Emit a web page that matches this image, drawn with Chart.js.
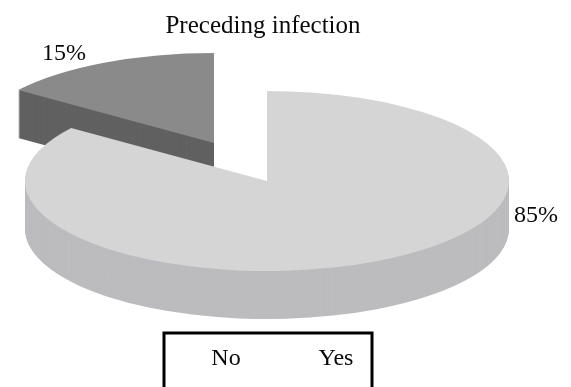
<!DOCTYPE html>
<html>
<head>
<meta charset="utf-8">
<title>Preceding infection</title>
<script src="https://cdn.jsdelivr.net/npm/chart.js@4/dist/chart.umd.min.js"></script>
<style>
  html, body { margin: 0; padding: 0; background: #fff; }
  #wrap { width: 571px; height: 387px; }
</style>
</head>
<body>
<div id="wrap"><canvas id="infection-pie" width="571" height="387"></canvas></div>
<script>
var categories = ["No", "Yes"];
var percents = [85, 15];
var topColors = ["#d5d5d6", "#8a8a8a"];
var sideColors = ["#bcbcbf", "#616161"];

// slices are painted back to front, the pulled out one first
var paintOrder = [1, 0];
var pieCenter = { x: 267, y: 181 };
var pulledOut = [{ x: 0, y: 0 }, { x: -53, y: -38 }];
var pieRadius = 242;
var tilt = 90 / 242;
var depth = 48;

var labelSpots = [{ x: 536, y: 216 }, { x: 64, y: 54 }];
var legendSpots = [226, 336];

var fontFamily = "'Liberation Serif', serif";

var pie3d = {
  id: "pie3d",
  beforeDatasetDraw: function (chart, args) {
    var ctx = chart.ctx;
    var arcs = args.meta.data;
    paintOrder.forEach(function (i) {
      var arc = arcs[i];
      var side = Object.create(arc);
      side.options = Object.assign({}, arc.options, { backgroundColor: sideColors[i] });
      var px = pieCenter.x + pulledOut[i].x;
      var py = pieCenter.y + pulledOut[i].y;
      for (var d = depth; d >= 0; d--) {
        ctx.save();
        ctx.translate(px, py + d);
        ctx.scale(1, tilt);
        ctx.translate(-arc.x, -arc.y);
        (d === 0 ? arc : side).draw(ctx);
        ctx.restore();
      }
    });
    return false;
  },
  afterDraw: function (chart) {
    var ctx = chart.ctx;
    ctx.save();
    ctx.fillStyle = "#0a0a0a";
    ctx.font = "24px " + fontFamily;
    ctx.textAlign = "center";
    ctx.textBaseline = "middle";
    percents.forEach(function (v, i) {
      ctx.fillText(v + "%", labelSpots[i].x, labelSpots[i].y);
    });

    // legend frame runs off the bottom edge
    ctx.strokeStyle = "#000";
    ctx.lineWidth = 3;
    ctx.strokeRect(164, 333, 208, 70);
    categories.forEach(function (c, i) {
      ctx.fillText(c, legendSpots[i], 359);
    });
    ctx.restore();
  }
};

var chartGraph = new Chart(document.getElementById("infection-pie"), {
  type: "pie",
  data: {
    labels: categories,
    datasets: [
      {
        data: percents,
        backgroundColor: topColors,
        borderWidth: 0,
        radius: pieRadius,
      }
    ],
  },
  options: {
    responsive: false,
    animation: false,
    events: [],
    layout: { padding: { right: 45 } },
    plugins: {
      legend: { display: false },
      tooltip: { enabled: false },
      title: {
        display: true,
        text: "Preceding infection",
        color: "#0a0a0a",
        font: { family: fontFamily, size: 25, weight: "normal" },
        padding: { top: 11, bottom: 4 },
      },
    },
  },
  plugins: [pie3d],
});
</script>
</body>
</html>
